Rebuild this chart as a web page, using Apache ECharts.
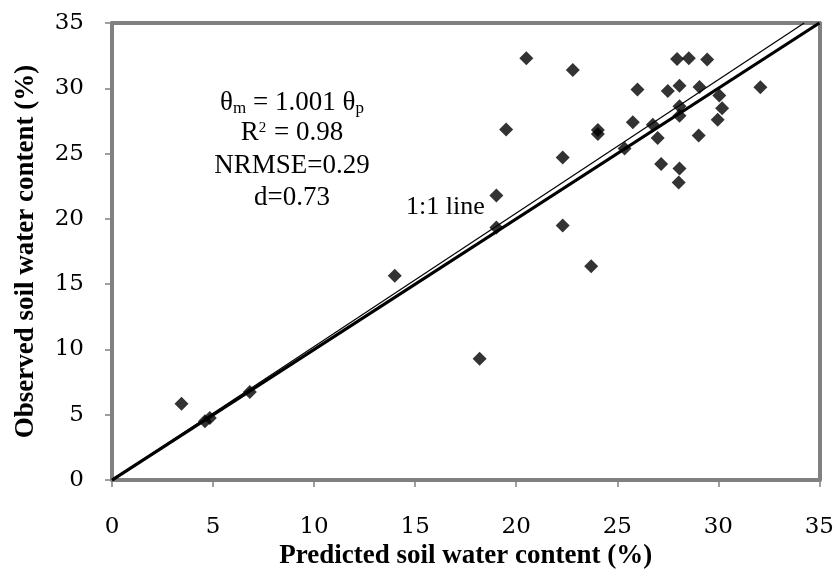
<!DOCTYPE html>
<html>
<head>
<meta charset="utf-8">
<script src="https://cdn.jsdelivr.net/npm/echarts@6/dist/echarts.min.js"></script>
<style>html,body{margin:0;padding:0;background:#fff}#c{width:837px;height:575px}</style>
</head>
<body>
<div id="c"></div>
<script>
// Predicted (x) vs observed (y) soil water content (%)
var predicted = [3.44, 4.6, 4.84, 6.82, 13.99, 18.19, 23.71, 20.5, 22.8, 26.0, 27.5, 27.96, 28.54, 29.45,
  19.5, 24.04, 24.04, 25.77, 26.76, 22.3, 25.36, 27.0, 27.17, 19.02, 19.02, 22.3, 28.08, 29.07, 32.08,
  30.05, 30.19, 28.08, 28.08, 29.97, 29.03, 28.08, 28.04];
var observed = [5.85, 4.5, 4.76, 6.75, 15.65, 9.29, 16.37, 32.3, 31.4, 29.9, 29.8, 32.24, 32.3, 32.2,
  26.85, 26.5, 26.8, 27.4, 27.2, 24.7, 25.4, 26.2, 24.2, 21.8, 19.34, 19.5, 30.2, 30.1, 30.08,
  29.44, 28.47, 28.63, 27.9, 27.6, 26.39, 23.85, 22.78];
var oneToOneX = [0, 35];
var oneToOneY = [0, 35];
var fitX = [0, 34.25];
var fitY = [0, 35];
var tickValues = [0, 5, 10, 15, 20, 25, 30, 35];
var xTitle = 'Predicted soil water content (%)';
var yTitle = 'Observed soil water content (%)';

function pairs(xs, ys) { return xs.map(function (v, i) { return [v, ys[i]]; }); }

var serif = 'Liberation Serif';
var tickFont = 'DejaVu Serif';
var gray = '#808080';
var vmin = tickValues[0], vmax = tickValues[tickValues.length - 1];
function centered(y, text, rich) {
  return { type: 'text', x: 292, y: y, z: 10, style: {
    text: text, rich: rich, fontFamily: serif, fontSize: 27, fill: '#000', align: 'center', verticalAlign: 'middle' } };
}
var richEq = {
  n: { fontFamily: serif, fontSize: 27, fill: '#000' },
  s: { fontFamily: serif, fontSize: 17, fill: '#000', padding: [12, 0, 0, 0] },
  u: { fontFamily: serif, fontSize: 15, fill: '#000', padding: [0, 1, 10, 0] }
};
function frameAxis(pos) {
  return { type: 'value', position: pos, min: vmin, max: vmax, interval: 5,
    axisLine: { show: true, onZero: false, lineStyle: { color: gray, width: 4 } },
    axisTick: { show: false }, axisLabel: { show: false }, splitLine: { show: false } };
}
var chart = echarts.init(document.getElementById('c'), null, { renderer: 'canvas' });
chart.setOption({
  animation: false,
  backgroundColor: '#fff',
  grid: { left: 112, right: 16, top: 23, bottom: 93, show: false },
  xAxis: [{
    type: 'value', min: vmin, max: vmax, interval: 5,
    name: xTitle, nameLocation: 'middle', nameGap: 62,
    nameTextStyle: { fontFamily: serif, fontWeight: 'bold', fontSize: 27, color: '#000' },
    axisLine: { show: true, onZero: false, lineStyle: { color: gray, width: 4 } },
    axisTick: { show: true, length: 7, inside: false, lineStyle: { color: gray, width: 1.5 } },
    axisLabel: { margin: 35, fontFamily: tickFont, fontSize: 23, color: '#000' },
    splitLine: { show: false }
  }, frameAxis('top')],
  yAxis: [{
    type: 'value', min: vmin, max: vmax, interval: 5,
    name: yTitle, nameLocation: 'middle', nameGap: 72,
    nameTextStyle: { fontFamily: serif, fontWeight: 'bold', fontSize: 27, color: '#000' },
    axisLine: { show: true, onZero: false, lineStyle: { color: gray, width: 4 } },
    axisTick: { show: true, length: 7, inside: false, lineStyle: { color: gray, width: 1.5 } },
    axisLabel: { margin: 28, fontFamily: tickFont, fontSize: 23, color: '#000' },
    splitLine: { show: false }
  }, frameAxis('right')],
  series: [
    { type: 'line', data: pairs(fitX, fitY), symbol: 'none', lineStyle: { color: '#000', width: 1.2 }, z: 2 },
    { type: 'line', data: pairs(oneToOneX, oneToOneY), symbol: 'none', lineStyle: { color: '#000', width: 3.2 }, z: 3 },
    { type: 'scatter', data: pairs(predicted, observed), symbol: 'diamond', symbolSize: 14,
      itemStyle: { color: '#000' }, z: 5 }
  ],
  graphic: [
    centered(103, '{n|θ}{s|m}{n| = 1.001 θ}{s|p}', richEq),
    centered(133, '{n|R}{u|2}{n| = 0.98}', richEq),
    centered(166, 'NRMSE=0.29'),
    centered(198, 'd=0.73'),
    { type: 'text', x: 406, y: 207, z: 10, style: { text: '1:1 line', fontFamily: serif, fontSize: 26, fill: '#000', align: 'left', verticalAlign: 'middle' } }
  ]
});
</script>
</body>
</html>
